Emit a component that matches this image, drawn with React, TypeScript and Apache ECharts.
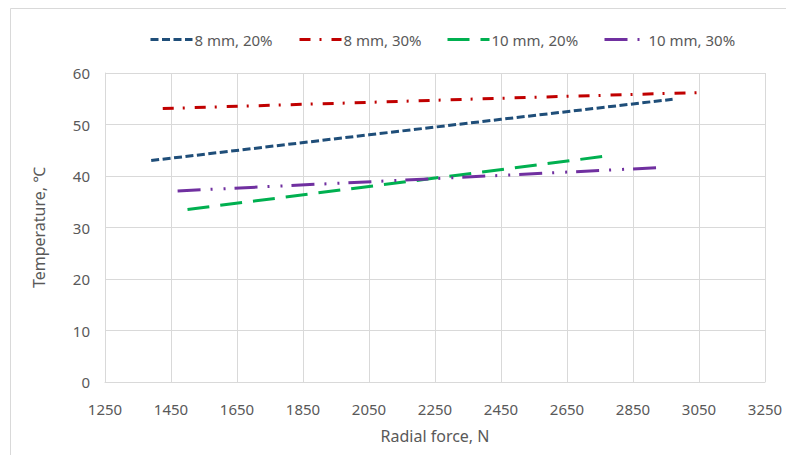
import React, { useEffect, useRef } from "react";
import * as echarts from "echarts";

const seriesNames = ["8 mm, 20%", "8 mm, 30%", "10 mm, 20%", "10 mm, 30%"];
const seriesColors = ["#1F4E79", "#C00000", "#00B050", "#7030A0"];

const force8mm20 = [1390, 2050, 2450, 2970];
const temp8mm20 = [43.0, 48.0, 51.0, 54.9];

const force8mm30 = [1425, 2050, 2450, 3050];
const temp8mm30 = [53.1, 54.3, 55.1, 56.2];

const force10mm20 = [1500, 2250, 2760];
const temp10mm20 = [33.5, 39.6, 43.8];

const force10mm30 = [1470, 2250, 2920];
const temp10mm30 = [37.1, 39.5, 41.6];

const xTicks = [1250, 1450, 1650, 1850, 2050, 2250, 2450, 2650, 2850, 3050, 3250];
const yTicks = [0, 10, 20, 30, 40, 50, 60];

const X_MIN = xTicks[0];
const X_STEP = xTicks[1] - xTicks[0];
const X_SPAN = xTicks[xTicks.length - 1] - X_MIN;

const dashes: number[][] = [
  [8, 3.5],
  [11, 9, 2, 10],
  [22, 11],
  [23, 10, 2, 11, 2, 9],
];

const legendLefts = [144, 293, 441, 598];

export default function App() {
  const ref = useRef<HTMLDivElement>(null);
  useEffect(() => {
    if (!ref.current) return;
    const chart = echarts.init(ref.current, undefined, { renderer: "svg" });
    const forces = [force8mm20, force8mm30, force10mm20, force10mm30];
    const temps = [temp8mm20, temp8mm30, temp10mm20, temp10mm30];
    const font = "'Noto Sans', sans-serif";
    const gray = "#595959";
    const gridColor = "#d9d9d9";
    chart.setOption({
      animation: false,
      textStyle: { fontFamily: font, color: gray },
      graphic: [
        {
          type: "rect",
          shape: { x: 10.5, y: 8.5, width: 800, height: 470 },
          style: { fill: "none", stroke: gridColor, lineWidth: 1 },
          z: -1,
        },
      ],
      legend: seriesNames.map((name, i) => ({
        data: [name],
        left: legendLefts[i],
        top: 27,
        itemWidth: 42,
        itemHeight: 14,
        itemGap: 0,
        textStyle: { fontSize: 15, color: gray, fontFamily: font, padding: [0, 0, 0, -3] },
        itemStyle: { opacity: 0 },
        lineStyle: { width: 3 },
      })),
      grid: { left: 105, right: 21, top: 73, bottom: 73, containLabel: false },
      xAxis: {
        type: "value",
        min: 0,
        max: X_SPAN,
        interval: X_STEP,
        name: "Radial force, N",
        nameLocation: "middle",
        nameGap: 46,
        nameTextStyle: { fontSize: 16, color: gray, fontFamily: font },
        axisLine: { show: true, lineStyle: { color: gridColor } },
        axisTick: { show: false },
        axisLabel: {
          fontSize: 15,
          color: gray,
          margin: 19,
          formatter: (v: number) => String(v + X_MIN),
        },
        splitLine: { show: true, lineStyle: { color: gridColor } },
      },
      yAxis: {
        type: "value",
        min: yTicks[0],
        max: yTicks[yTicks.length - 1],
        interval: yTicks[1] - yTicks[0],
        name: "Temperature, \u2103",
        nameLocation: "middle",
        nameGap: 58,
        nameTextStyle: { fontSize: 16, color: gray, fontFamily: font },
        axisLine: { show: true, lineStyle: { color: gridColor } },
        axisTick: { show: false },
        axisLabel: { fontSize: 15, color: gray, margin: 15 },
        splitLine: { show: true, lineStyle: { color: gridColor } },
      },
      series: seriesNames.map((name, i) => ({
        name,
        type: "line",
        symbol: "none",
        showSymbol: false,
        color: seriesColors[i],
        lineStyle: { color: seriesColors[i], width: 3, type: dashes[i], cap: "butt" },
        data: forces[i].map((f, j) => [f - X_MIN, temps[i][j]]),
      })),
    });
    return () => chart.dispose();
  }, []);
  return (
    <div
      ref={ref}
      style={{ position: "absolute", left: 0, top: 0, width: 786, height: 455 }}
    />
  );
}
